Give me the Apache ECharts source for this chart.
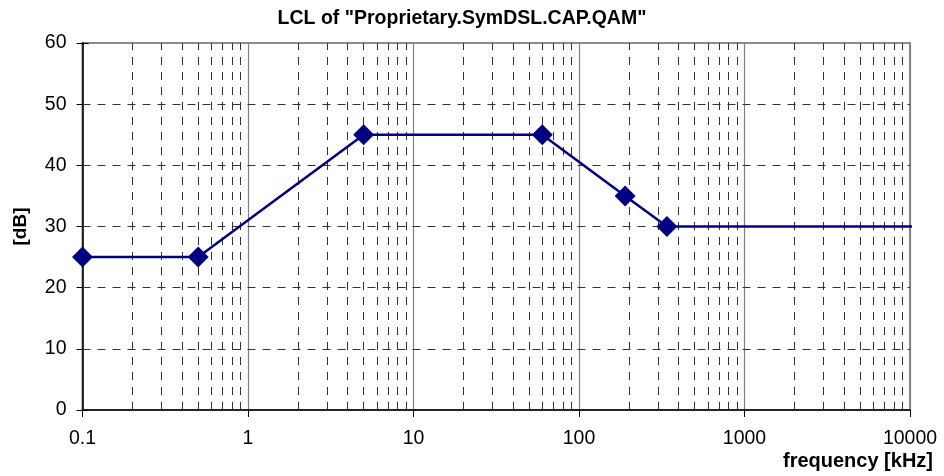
<!DOCTYPE html>
<html>
<head>
<meta charset="utf-8">
<script src="https://cdn.jsdelivr.net/npm/echarts@6/dist/echarts.min.js"></script>
<style>
  html, body { margin: 0; padding: 0; background: #fff; }
  #chart { width: 944px; height: 476px; }
</style>
</head>
<body>
<div id="chart"></div>
<script>
(function () {
    // 数据
    var freq = [0.1, 0.5, 5, 60, 190, 340, 11500];   // kHz
    var lcl  = [25, 25, 45, 45, 35, 30, 30];         // dB
    var xLabels = ['0.1', '1', '10', '100', '1000', '10000'];
    var yLines = [10, 20, 30, 40, 50];               // 横向虚线
    var decades = [0.1, 1, 10, 100, 1000];

    // 每个十倍程内 2..9 的次网格线
    var minorX = [];
    decades.forEach(function (d) {
        for (var m = 2; m <= 9; m++) minorX.push({ xAxis: +(m * d).toPrecision(3) });
    });

    var data = freq.map(function (f, i) {
        var p = { value: [f, lcl[i]] };
        if (i === freq.length - 1) p.symbol = 'none';   // 最后一点超出坐标轴
        return p;
    });

    var font = 'Liberation Sans, Arial, sans-serif';
    var myChart = echarts.init(document.getElementById('chart'));
    var option = {
        backgroundColor: '#fff',
        animation: false,
        title: {
            text: 'LCL of "Proprietary.SymDSL.CAP.QAM"',
            left: 457,
            textAlign: 'center',
            top: 4,
            textStyle: { fontFamily: font, fontWeight: 'bold', fontSize: 19.5, color: '#000' }
        },
        graphic: [{
            type: 'text',
            right: 11,
            top: 451,
            style: { text: 'frequency [kHz]', font: 'bold 20px ' + font, fill: '#000' }
        }],
        grid: {
            left: 82.5, right: 34, top: 43, bottom: 66,
            show: true, borderColor: '#8c8c8c', borderWidth: 2
        },
        xAxis: {
            type: 'log',
            logBase: 10,
            min: 0.1,
            max: 10000,
            axisLine: { lineStyle: { color: '#000', width: 1.5 } },
            axisTick: { length: 7, lineStyle: { color: '#000' } },
            axisLabel: {
                fontFamily: font, fontSize: 19.5, color: '#000', margin: 19,
                formatter: function (v) { return xLabels[Math.round(Math.log10(v)) + 1]; }
            },
            splitLine: { show: true, lineStyle: { color: '#808080', width: 1.2 } },
            minorTick: { show: false },
            minorSplitLine: { show: false }
        },
        yAxis: [{
            type: 'value',
            min: 0, max: 60, interval: 10,
            name: '[dB]',
            nameLocation: 'middle',
            nameRotate: 90,
            nameGap: 52,
            nameTextStyle: { fontFamily: font, fontWeight: 'bold', fontSize: 19, color: '#000' },
            axisLine: { show: true, lineStyle: { color: '#000', width: 1.5 } },
            axisTick: { show: true, length: 6, lineStyle: { color: '#000' } },
            axisLabel: { fontFamily: font, fontSize: 19.5, color: '#000', margin: 16 },
            splitLine: { show: false }
        }, {
            // 内侧刻度
            type: 'value',
            position: 'left',
            min: 0, max: 60, interval: 10,
            axisLine: { show: false },
            axisTick: { show: true, inside: true, length: 6, lineStyle: { color: '#000' } },
            axisLabel: { show: false },
            splitLine: { show: false }
        }],
        series: [{
            type: 'line',
            data: data,
            clip: false,
            symbol: 'diamond',
            symbolSize: 21,
            lineStyle: { color: '#000080', width: 2.5 },
            itemStyle: { color: '#000080' },
            z: 5,
            markLine: {
                silent: true,
                symbol: 'none',
                label: { show: false },
                animation: false,
                lineStyle: { color: '#333', type: [8, 7], width: 1 },
                data: minorX.concat(yLines.map(function (v) { return { yAxis: v }; }))
            }
        }]
    };
    myChart.setOption(option);
})();
</script>
</body>
</html>
